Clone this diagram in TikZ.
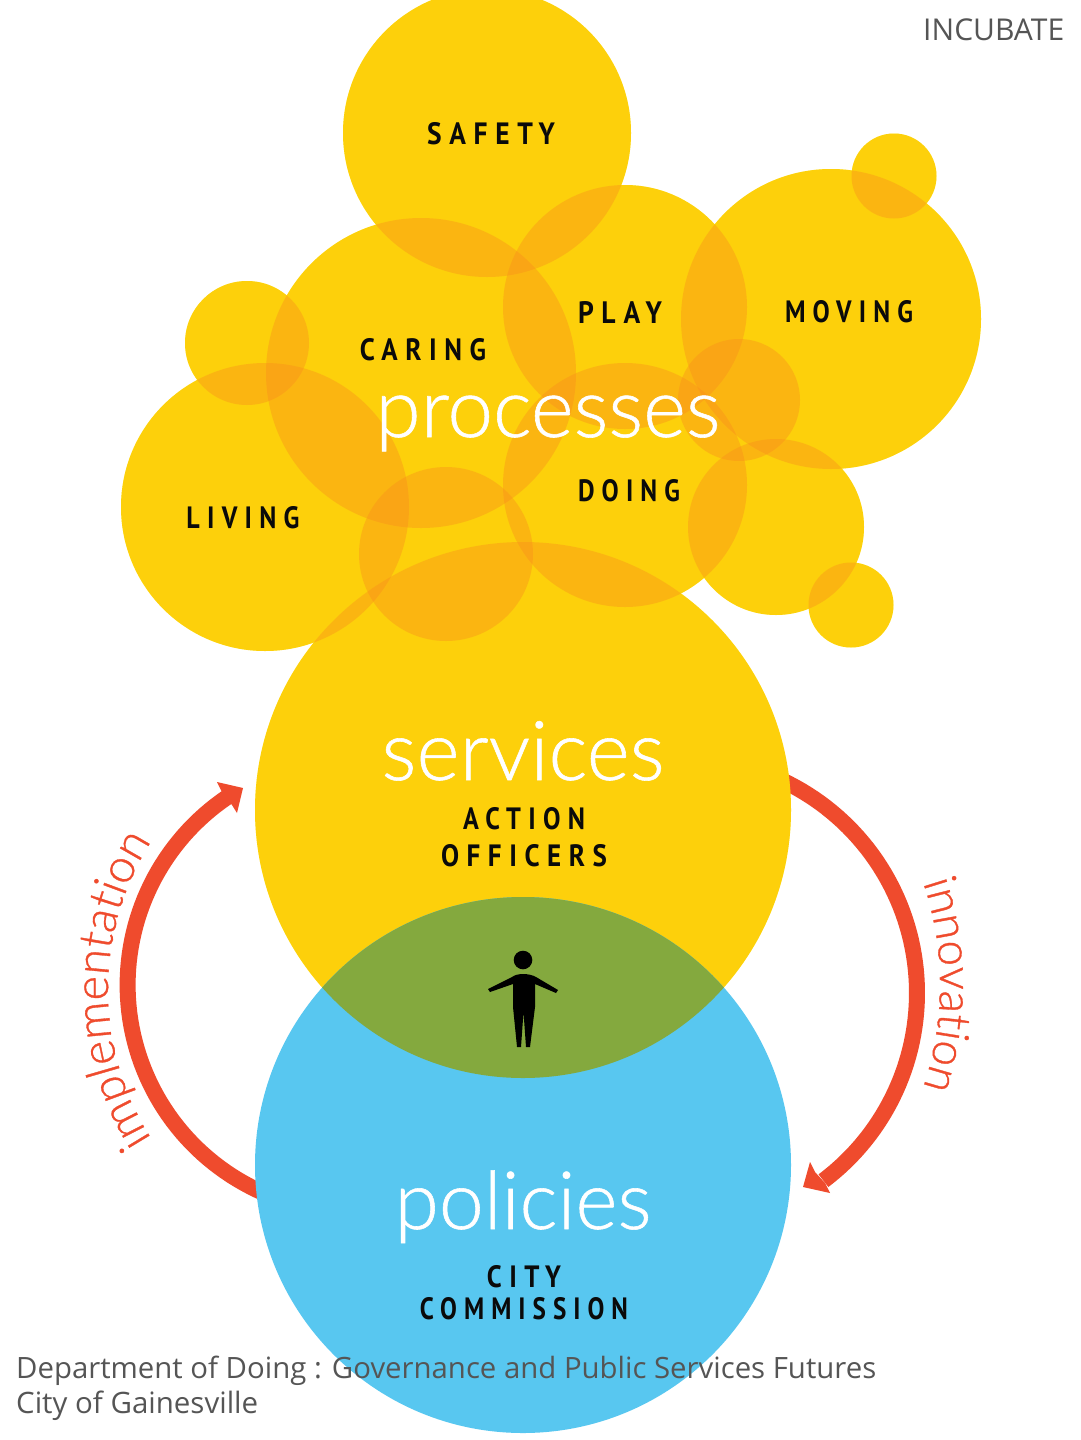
\documentclass[tikz,border=0pt]{standalone}
\usepackage{graphicx}
\usepackage{fontspec}
\usetikzlibrary{decorations.text}
\setmainfont{Open Sans}
\newfontfamily\capsfont[LetterSpace=28]{PT Sans Bold}
\newfontfamily\thinfont[FakeBold=0.7]{Lato Light}
\newfontfamily\notefont{Open Sans}
\definecolor{basey}{RGB}{255,252,0}
\definecolor{tinty}{RGB}{250,142,28}
\definecolor{skyblue}{RGB}{88,199,240}
\definecolor{lens}{RGB}{132,169,62}
\definecolor{arrowred}{RGB}{239,75,45}
\definecolor{notegray}{RGB}{85,85,85}
\definecolor{inkblack}{RGB}{10,10,10}
\newcommand{\capsfit}[2]{\resizebox{#1pt}{22pt}{\capsfont #2}}
\newcommand{\bigfit}[2]{\resizebox{#1pt}{!}{\thinfont\fontsize{80}{80}\selectfont #2}}
\newcommand{\notefit}[2]{\resizebox{#1pt}{!}{\notefont\fontsize{27}{27}\selectfont #2}}
\newcommand{\bubbles}[1]{%
  \foreach \cx/\cy/\rr in {487/133/144,421/373/155,625/307/122,831/319/150,894/176/42.5,
    247/343/62,265/507/144,625/485/122,739/400/61,776/527/88,851/605/42.5,446/554/87,523/810/268}
  {\fill[#1] (\cx,\cy) circle[radius=\rr pt];}}
\tikzset{
  caplabel/.style={inner sep=0pt,text=inkblack,anchor=center},
  biglabel/.style={inner sep=0pt,text=white,anchor=base},
  notelabel/.style={inner sep=0pt,text=notegray,anchor=base west},
  bandline/.style={draw=arrowred,line width=16pt,line cap=butt},
}
\begin{document}
\begin{tikzpicture}[x=1pt,y=-1pt]
\useasboundingbox (0,0) rectangle (1080,1440);
\clip (0,0) rectangle (1080,1440);
\fill[white] (0,0) rectangle (1080,1440);
\coordinate (servc) at (523,810);
\coordinate (polc) at (523,1165);
% arrows, behind the big circles
\draw[bandline] plot[domain=108:236,samples=70] ({354.6+227*cos(\x)},{985+227*sin(\x)});
\draw[bandline] plot[domain=-70:53,samples=70] ({682+235*cos(\x)},{993+235*sin(\x)});
\fill[arrowred] (243,788) -- (217,782) -- (222,792) -- (232,805) -- (237,813) -- cycle;
\fill[arrowred] (803,1187) -- (810,1162) -- (815,1172) -- (825,1183) -- (830,1193) -- cycle;
% bubbles
\bubbles{basey}
\bubbles{tinty,opacity=0.4}
% policies + lens
\fill[skyblue] (polc) circle[radius=268pt];
\begin{scope}
\clip (polc) circle[radius=268pt];
\fill[lens] (servc) circle[radius=268pt];
\end{scope}
% person
\fill[black] (523,960) circle[radius=9.3pt];
\fill[black] (512,977) .. controls (517,973) and (529,973) .. (536,977)
  -- (558,990) -- (556,993) -- (535,984) -- (535,1007) -- (530,1047) -- (526,1047) -- (523.5,1012)
  -- (521,1047) -- (517,1047) -- (513,1007) -- (513,984) -- (490,992) -- (488,989) -- cycle;
% labels
\node[caplabel] (safety) at (491,134) {\capsfit{128}{SAFETY}};
\node[caplabel] (play) at (620,312) {\capsfit{84}{PLAY}};
\node[caplabel] (moving) at (849,312) {\capsfit{128}{MOVING}};
\node[caplabel] (caring) at (423,350) {\capsfit{126}{CARING}};
\node[caplabel] (living) at (243,518) {\capsfit{113}{LIVING}};
\node[caplabel] (doing) at (629,491) {\capsfit{102}{DOING}};
\node[caplabel] (action) at (524,819) {\capsfit{122}{ACTION}};
\node[caplabel] (officers) at (524,856) {\capsfit{166}{OFFICERS}};
\node[caplabel] (city) at (524,1277) {\capsfit{74}{CITY}};
\node[caplabel] (commission) at (524,1309) {\capsfit{208}{COMMISSION}};
\node[biglabel] (processes) at (548,437) {\bigfit{345}{processes}};
\node[biglabel] (services) at (523,780) {\bigfit{283}{services}};
\node[biglabel] (policies) at (523,1229) {\bigfit{257}{policies}};
% curved labels
\path[decorate,decoration={text along path,text align=center,text color=arrowred,
  text={|\thinfont\fontsize{47}{47}\selectfont|implementation}}]
  plot[domain=140:220,samples=60] ({385+277*cos(\x)},{990+277*sin(\x)});
\path[decorate,decoration={text along path,text align=center,text color=arrowred,
  text={|\thinfont\fontsize{46}{46}\selectfont|innovation}}]
  plot[domain=-30:30,samples=60] ({620+320*cos(\x)},{985+320*sin(\x)});
% notes
\node[notelabel] (incubate) at (923,41) {\notefit{141}{INCUBATE}};
\node[notelabel] (dept) at (16,1378) {\notefit{860}{Department of Doing : Governance and Public Services Futures}};
\node[notelabel] (gville) at (16,1413) {\notefit{242}{City of Gainesville}};
\end{tikzpicture}
\end{document}
